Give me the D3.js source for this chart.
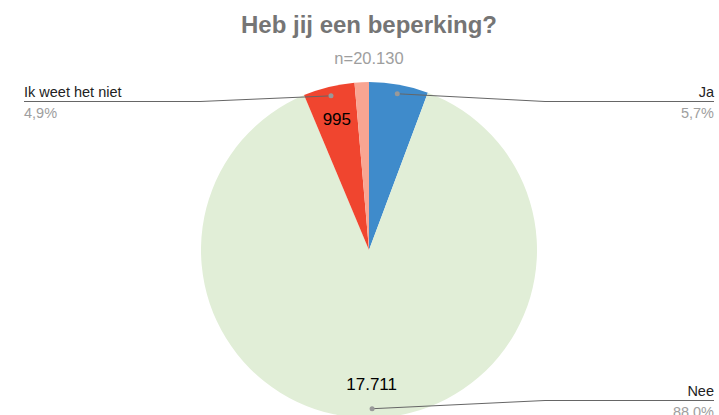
<!DOCTYPE html>
<html>
<head>
<meta charset="utf-8">
<script src="https://cdnjs.cloudflare.com/ajax/libs/d3/7.8.5/d3.min.js"></script>
<style>
  body { margin: 0; background: #fff; }
  svg { display: block; font-family: "Liberation Sans", Arial, sans-serif; }
</style>
</head>
<body>
<svg id="chart" width="719" height="415"></svg>
<script>
// data
var categories = ["Ja", "Nee", "Ik weet het niet", "Anders"];
var counts = [1147, 17711, 995, 277];
var percentLabels = ["5,7%", "88,0%", "4,9%", null];
var valueLabels = [null, "17.711", "995", null];
var colors = ["#3f8bcb", "#e1eed7", "#f0452f", "#f9a592"];

var width = 719;
var height = 415;
var cx = 369, cy = 250, radius = 168;

var svg = d3.select("#chart");

svg.append("text")
  .attr("x", cx)
  .attr("y", 33)
  .attr("text-anchor", "middle")
  .style("font-size", "24px")
  .style("font-weight", "bold")
  .style("fill", "#757575")
  .text("Heb jij een beperking?");

svg.append("text")
  .attr("x", cx)
  .attr("y", 64)
  .attr("text-anchor", "middle")
  .style("font-size", "16.5px")
  .style("fill", "#9e9e9e")
  .text("n=20.130");

var pie = d3.pie().sort(null).value(d => d);
var arcs = pie(counts);

var arc = d3.arc().innerRadius(0).outerRadius(radius);

var g = svg.append("g").attr("transform", "translate(" + cx + "," + cy + ")");

g.selectAll("path")
  .data(arcs)
  .enter().append("path")
  .attr("d", arc)
  .style("fill", (d, i) => colors[i]);

// value labels inside slices
function polar(r, a) { return [r * Math.sin(a), -r * Math.cos(a)]; }

arcs.forEach(function(d, i) {
  if (!valueLabels[i]) return;
  var mid = (d.startAngle + d.endAngle) / 2;
  var p = polar(radius * 0.8, mid);
  g.append("text")
    .attr("x", p[0])
    .attr("y", p[1])
    .attr("dy", "0.35em")
    .attr("text-anchor", "middle")
    .style("font-size", "17px")
    .style("fill", "#000")
    .text(valueLabels[i]);
});

// leader lines + outside labels
var labelY = { 0: 101.5, 1: 400.5, 2: 101.5 };
arcs.forEach(function(d, i) {
  if (!percentLabels[i]) return;
  var mid = (d.startAngle + d.endAngle) / 2;
  var dot = polar(radius * 0.945, mid);
  var right = Math.sin(mid) >= 0;
  var ly = labelY[i] - cy;
  var elbowX = right ? 545 - cx : 200 - cx;
  var endX = right ? 714 - cx : 24 - cx;

  g.append("polyline")
    .attr("points", [dot, [elbowX, ly], [endX, ly]].map(p => p.join(",")).join(" "))
    .style("fill", "none")
    .style("stroke", "#666")
    .style("stroke-width", 1);

  g.append("circle")
    .attr("cx", dot[0])
    .attr("cy", dot[1])
    .attr("r", 2.5)
    .style("fill", "#999");

  g.append("text")
    .attr("x", endX)
    .attr("y", ly - 5)
    .attr("text-anchor", right ? "end" : "start")
    .style("font-size", "14.5px")
    .style("fill", "#222")
    .text(categories[i]);

  g.append("text")
    .attr("x", endX)
    .attr("y", ly + 16)
    .attr("text-anchor", right ? "end" : "start")
    .style("font-size", "14.5px")
    .style("fill", "#9e9e9e")
    .text(percentLabels[i]);
});
</script>
</body>
</html>
